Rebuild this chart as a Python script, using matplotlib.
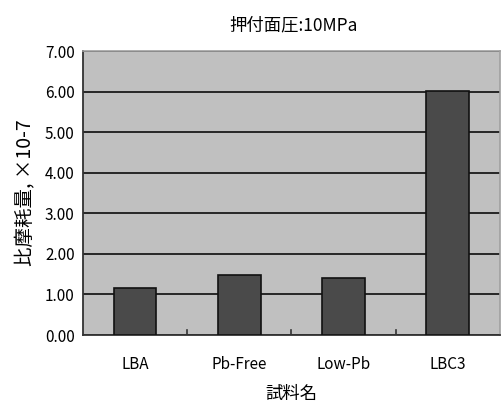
import matplotlib
matplotlib.use("Agg")
import matplotlib.pyplot as plt

plt.rcParams['font.family'] = ['Noto Sans CJK JP', 'DejaVu Sans']

categories = ["LBA", "Pb-Free", "Low-Pb", "LBC3"]
wear_rate = [1.17, 1.48, 1.40, 6.03]
y_ticks = [0, 1, 2, 3, 4, 5, 6, 7]
y_tick_labels = ["0.00", "1.00", "2.00", "3.00", "4.00", "5.00", "6.00", "7.00"]

fig = plt.figure(figsize=(5.04, 4.03), dpi=100)
ax = fig.add_axes([0.1647, 0.1687, 0.827, 0.704])
ax.set_facecolor("#C0C0C0")

ax.set_axisbelow(True)
ax.yaxis.grid(True, color="#1a1a1a", linewidth=1.3)

x = range(len(categories))
ax.bar(x, wear_rate, width=0.41, color="#4A4A4A", edgecolor="#111111", linewidth=1.2, zorder=3)

ax.set_xlim(-0.5, len(categories) - 0.5)
ax.set_ylim(0, 7)
ax.set_yticks(y_ticks)
ax.set_yticklabels(y_tick_labels)
ax.set_xticks(list(x))
ax.set_xticklabels(categories)
ax.tick_params(axis="x", length=0, pad=15, labelsize=11)
ax.tick_params(axis="y", length=0, pad=6, labelsize=11)

# category separators on the bottom axis
for b in [0.5, 1.5, 2.5]:
    ax.plot([b, b], [0, 0.12], color="#333333", linewidth=1.2, zorder=4)

for side in ["top", "right"]:
    ax.spines[side].set_color("#A0A0A0")
    ax.spines[side].set_linewidth(1.2)
for side in ["left", "bottom"]:
    ax.spines[side].set_color("#333333")
    ax.spines[side].set_linewidth(1.3)

ax.set_title("押付面圧:10MPa", fontsize=12.5, pad=15, x=0.505)
ax.set_xlabel("試料名", fontsize=12.5, labelpad=9)
ax.set_ylabel("比摩耗量, ×10-7", fontsize=14, labelpad=6)

fig.savefig("out.png", dpi=100)
